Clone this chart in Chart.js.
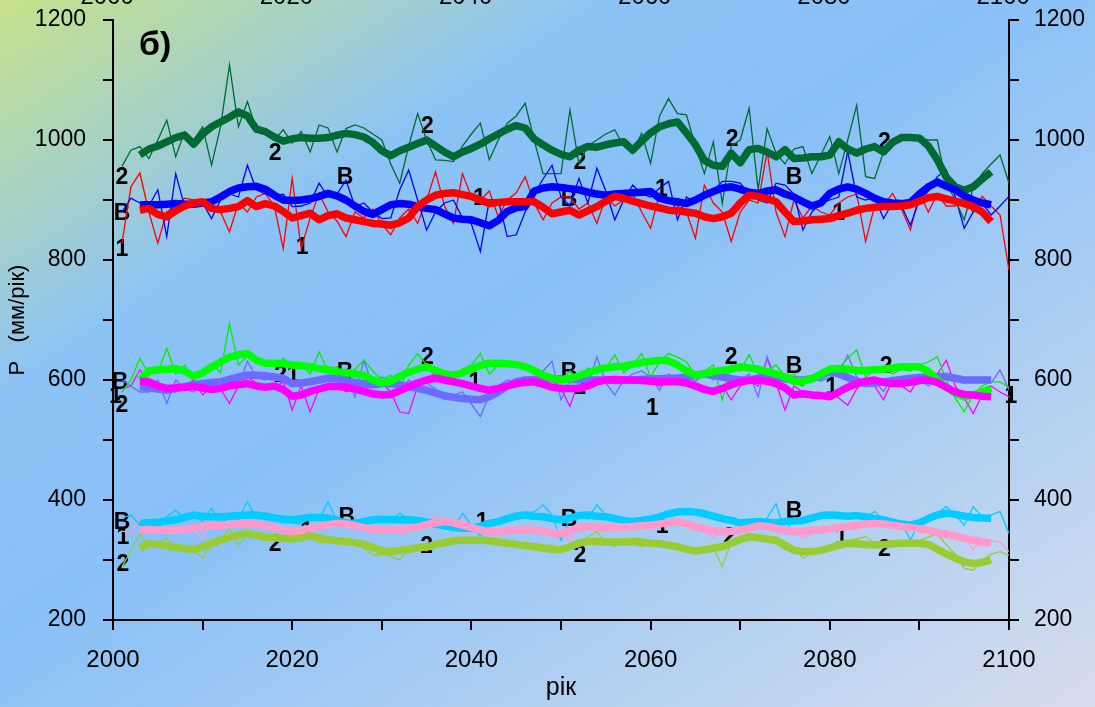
<!DOCTYPE html>
<html>
<head>
<meta charset="utf-8">
<script src="https://cdn.jsdelivr.net/npm/chart.js@4.4.1/dist/chart.umd.min.js"></script>
<style>
  html, body { margin: 0; padding: 0; }
  #wrap {
    width: 1095px; height: 707px; position: relative;
    background: linear-gradient(to bottom right, #c6e28a 0%, #8cc3f6 28%, #88c0f8 45%, #a9cdf2 70%, #d6dcec 100%);
  }
</style>
</head>
<body>
<div id="wrap"><canvas id="chart"></canvas></div>
<script>
// annual values start in 2001, moving averages in 2003
const firstYear = 2001;
const maFirstYear = 2003;

// upper group
const darkGreenAnnual = [956,983,989,969,1000,1033,972,1014,1000,1022,
  958,1022,1125,1022,1064,1017,1010,1000,1017,995,
  1014,980,1025,1020,980,1019,1025,1020,1010,1000,
  960,928,990,1044,1000,967,966,964,990,1010,
  1028,967,1000,1028,1040,1061,1000,944,944,944,
  1050,961,990,1000,1010,1017,990,980,1011,961,
  1040,1069,1044,1042,990,944,997,894,990,1000,
  1053,917,1019,978,960,985,989,944,975,1006,
  944,1000,1058,939,936,980,1000,1007,1005,1003,
  1000,1000,928,900,867,920,944,960,975,928];
const darkGreenMA = [975,985,990,997,1004,1008,993,1010,1022,1030,
  1038,1047,1040,1018,1014,1005,998,1002,1004,1003,
  1003,1004,1008,1011,1009,1005,996,982,974,982,
  988,994,1000,990,980,972,980,986,993,1002,
  1010,1018,1024,1020,1002,992,983,976,972,983,
  989,988,992,995,997,983,998,1012,1022,1027,
  1030,1012,992,966,958,956,978,962,984,986,
  980,972,984,969,970,972,972,975,997,985,
  978,985,989,980,996,1004,1004,1003,990,967,
  938,922,916,922,935,947];
const blueAnnual = [880,903,895,890,917,839,944,889,900,895,
  869,900,910,905,958,917,910,905,910,889,
  890,895,928,905,910,933,889,895,880,869,
  870,917,950,900,850,880,895,900,870,860,
  814,900,900,839,842,880,910,935,958,905,
  890,936,895,953,915,867,900,925,910,905,
  920,931,867,905,895,905,915,931,931,928,
  910,900,895,928,925,910,850,880,895,900,
  905,981,905,900,905,869,895,890,858,900,
  915,939,950,905,853,880,895,875,890,906];
const blueMA = [892,892,892,893,894,893,893,895,897,905,
  914,920,922,923,918,908,900,899,900,902,
  906,911,907,900,890,881,876,884,892,894,
  893,889,886,884,877,870,868,867,862,857,
  866,881,887,889,915,920,922,921,919,917,
  913,910,908,910,911,912,913,914,903,899,
  897,894,900,908,914,920,922,918,913,911,
  915,917,910,905,897,890,895,911,918,922,
  918,911,903,897,895,894,896,910,922,930,
  923,917,907,900,895,892];
const redAnnual = [828,922,945,880,828,880,890,903,900,895,
  885,880,847,895,880,905,911,890,819,936,
  819,870,911,880,865,839,880,870,885,860,
  842,870,885,861,900,947,890,861,944,905,
  900,915,872,900,912,939,895,867,895,905,
  905,885,895,861,905,890,900,910,880,853,
  911,895,890,880,836,925,895,880,831,880,
  900,895,981,880,839,900,870,890,880,875,
  895,905,910,831,890,890,911,885,850,911,
  880,910,890,890,900,880,906,890,875,783];
const redMA = [883,886,876,872,882,890,895,897,886,884,
  886,889,899,889,894,890,881,870,874,878,
  867,874,877,870,867,864,861,860,858,862,
  870,889,900,908,911,912,909,906,900,894,
  896,897,897,897,897,888,877,880,883,875,
  882,889,898,906,903,898,894,890,887,883,
  882,880,878,872,869,872,878,895,908,906,
  902,897,880,864,865,867,868,869,874,878,
  883,886,888,889,889,890,892,898,904,906,
  902,898,894,889,880,864];

// middle group
const greenAnnual = [580,600,636,610,612,653,610,625,600,612,
  628,612,694,625,640,635,630,622,636,622,
  628,610,647,615,622,600,618,633,615,600,
  608,583,625,644,625,610,606,600,618,625,
  644,610,625,632,628,620,610,603,608,600,
  615,590,620,610,620,642,612,625,644,605,
  630,644,638,630,608,615,625,567,625,615,
  642,610,615,625,605,610,590,605,600,612,
  620,636,650,605,615,622,610,618,615,625,
  630,639,600,570,547,575,590,597,597,588];
const greenMA = [600,615,617,618,619,615,606,612,622,630,
  638,642,644,633,628,628,627,625,624,622,
  619,617,614,612,610,608,600,595,598,606,
  613,618,622,616,610,608,612,618,624,628,
  628,627,626,622,616,608,603,600,602,607,
  612,617,620,622,623,626,629,631,633,632,
  625,615,608,610,614,616,618,622,620,618,
  614,610,605,598,598,602,610,618,619,618,
  616,616,617,618,620,622,622,622,614,600,
  588,578,572,575,580,586];
const slateAnnual = [600,590,580,580,600,561,600,585,580,595,
  590,600,605,590,631,605,600,610,600,595,
  598,600,595,605,600,610,572,633,590,605,
  598,585,600,590,595,585,567,575,580,560,
  539,575,590,600,595,605,600,615,631,567,
  600,605,590,639,595,575,600,610,615,605,
  583,610,600,605,598,610,600,612,605,600,
  610,572,639,600,610,595,590,605,598,605,
  610,642,605,595,598,581,605,600,595,600,
  590,605,600,598,595,600,605,595,617,583];
const slateMA = [589,587,585,583,586,589,592,594,596,597,
  601,605,608,608,607,605,603,594,595,597,
  600,603,602,599,596,594,592,594,594,592,
  589,586,583,578,574,571,569,568,567,572,
  580,590,597,600,601,602,602,602,601,601,
  600,600,600,599,599,600,601,602,602,603,
  603,605,608,610,608,605,602,600,600,603,
  606,605,602,600,600,602,608,614,610,604,
  598,594,595,597,599,601,603,604,605,606,
  606,603,600,600,600,600];
const magentaAnnual = [585,590,617,600,590,585,580,590,600,575,
  590,585,561,590,605,595,590,585,598,550,
  590,547,585,590,595,580,590,585,590,595,
  580,547,544,590,600,614,595,600,595,585,
  590,580,585,590,595,600,605,590,600,585,
  556,600,590,595,600,595,605,600,595,598,
  590,595,600,590,595,590,585,590,567,590,
  598,590,636,595,550,590,580,570,575,580,
  570,558,585,600,590,567,600,590,580,605,
  595,610,633,590,570,544,575,590,580,572];
const magentaMA = [598,597,590,586,587,588,589,587,584,586,
  590,592,594,590,588,590,584,573,575,581,
  585,589,589,588,585,581,577,575,576,582,
  589,595,600,603,600,597,594,590,586,583,
  586,590,594,596,597,593,588,586,586,586,
  590,597,600,601,600,600,599,598,597,597,
  597,595,590,584,581,586,592,597,599,600,
  598,594,587,575,577,575,574,572,580,588,
  594,598,600,596,594,594,596,599,600,596,
  588,580,576,575,573,572];

// lower group
const cyanAnnual = [370,375,358,365,350,372,383,368,372,365,
  386,362,370,368,397,370,375,372,368,362,
  360,370,368,397,365,360,368,357,370,372,
  365,378,368,370,362,365,358,352,378,358,
  340,362,368,372,375,378,380,392,375,333,
  370,375,368,392,375,365,368,362,360,365,
  370,378,382,383,380,378,375,372,368,360,
  365,358,370,394,344,370,368,365,372,370,
  378,372,375,370,381,365,358,362,333,365,
  370,378,389,375,358,389,372,375,381,344];
const cyanMA = [361,362,363,365,367,371,375,373,372,372,
  373,374,375,375,373,370,368,367,369,371,
  371,370,366,362,361,364,367,368,367,367,
  367,366,363,360,357,354,353,353,356,361,
  364,369,373,375,373,372,369,367,370,374,
  375,373,372,369,366,364,366,368,372,377,
  380,381,380,377,373,369,366,362,363,364,
  363,362,364,365,366,370,374,375,374,373,
  374,372,369,367,363,360,358,362,369,375,
  378,376,373,371,370,369];
const pinkAnnual = [348,345,369,352,348,350,352,350,348,336,
  362,355,360,356,365,360,358,355,350,345,
  352,350,358,362,360,357,355,352,350,348,
  355,348,352,358,360,375,360,357,370,350,
  348,345,350,352,348,355,350,352,348,345,
  331,355,360,352,355,350,358,354,355,360,
  356,381,360,362,355,350,336,352,350,346,
  352,358,356,360,355,350,336,345,350,352,
  348,355,352,357,360,367,358,355,360,367,
  352,348,345,342,340,317,335,332,330,314];
const pinkMA = [350,351,350,350,350,351,353,356,357,358,
  359,360,361,360,357,354,350,347,349,353,
  356,359,361,360,357,354,351,350,350,351,
  352,355,359,362,364,362,358,354,350,347,
  347,349,350,350,350,348,345,344,349,354,
  356,355,354,354,355,356,357,358,360,362,
  364,360,355,352,349,347,348,350,353,357,
  356,353,350,347,348,349,350,352,354,356,
  358,360,361,360,358,356,354,352,350,346,
  343,340,336,333,330,328];
const limeAnnual = [289,315,344,322,328,336,322,318,316,303,
  325,335,353,325,342,340,336,335,332,342,
  330,340,327,335,330,336,332,320,308,310,
  306,300,318,325,315,330,322,332,335,330,
  338,335,330,328,320,330,322,318,325,315,
  322,330,338,347,330,322,335,328,322,330,
  325,328,322,320,312,315,320,289,330,338,
  340,342,335,330,317,322,303,312,312,318,
  328,332,335,339,328,325,327,330,328,332,
  338,344,325,310,286,283,300,310,314,308];
const limeMA = [320,327,326,324,321,319,317,322,328,333,
  338,342,344,341,338,337,336,335,338,340,
  337,334,332,331,329,326,321,316,314,316,
  318,320,322,326,329,332,333,333,333,332,
  330,328,326,324,322,320,318,317,322,328,
  331,331,330,330,330,331,330,328,327,325,
  322,318,315,317,320,322,328,334,339,337,
  335,333,325,316,314,314,316,320,325,328,
  327,326,325,326,327,328,328,328,326,318,
  310,303,297,294,296,300];

// curve labels written along the lines
const labelText = ['2','В','1','2','1','В','2','1','В','2','1','2','В','1','2',
  'В','1','2','2','1','В','2','1','В','2','1','2','В','1','2','1',
  'В','1','2','2','1','В','2','1','В','2','1','2','В','1','2'];
const labelYear = [2001.0,2001.0,2001.0,2018.1,2021.1,2025.9,2035.1,2040.9,2050.9,2052.1,2061.2,2069.1,2076.0,2081.0,2086.1,
  2000.8,2000.3,2001.0,2018.7,2020.1,2025.9,2035.1,2040.4,2050.9,2052.1,2060.2,2069.0,2076.0,2080.2,2086.3,2100.2,
  2001.0,2001.1,2001.1,2018.1,2021.6,2026.1,2035.0,2041.2,2050.9,2052.1,2061.3,2068.8,2076.0,2081.3,2086.1];
const labelValue = [937,878,817,978,820,937,1023,903,900,962,917,1000,937,878,995,
  595,573,558,607,607,613,637,595,613,588,553,637,622,588,622,572,
  362,337,292,325,347,370,322,362,367,308,355,338,380,338,317];

const yTicksShown = [200, 400, 600, 800, 1000, 1200];
const xTicksShown = [2000, 2020, 2040, 2060, 2080, 2100];

const FONT = '"Liberation Sans", Arial, sans-serif';

function toPoints(values, start) {
  return values.map((v, i) => ({ x: start + i, y: v }));
}

function thin(values, color) {
  return { data: toPoints(values, firstYear), borderColor: color, borderWidth: 1.3,
    pointRadius: 0, tension: 0, order: 20 };
}
function thick(values, color) {
  return { data: toPoints(values, maFirstYear), borderColor: color, borderWidth: 7.5,
    pointRadius: 0, tension: 0, borderJoinStyle: 'round', borderCapStyle: 'butt', order: 10 };
}

const datasets = [
  thick(redMA, '#ff0000'), thick(blueMA, '#0000ff'), thick(darkGreenMA, '#006a33'),
  thick(magentaMA, '#ff00ff'), thick(greenMA, '#00ff00'), thick(slateMA, '#6b6bff'),
  thick(pinkMA, '#ff99cc'), thick(cyanMA, '#00ccff'), thick(limeMA, '#99cc33'),
  thin(darkGreenAnnual, '#006a33'), thin(blueAnnual, '#0000ff'), thin(redAnnual, '#ff0000'),
  thin(greenAnnual, '#00ee00'), thin(slateAnnual, '#6b6bff'), thin(magentaAnnual, '#ff00ff'),
  thin(cyanAnnual, '#00ccff'), thin(pinkAnnual, '#ff99cc'), thin(limeAnnual, '#99cc33')
];

// draws the "1", "2", "В" marks under the lines, and the panel letter
const curveLabels = {
  id: 'curveLabels',
  beforeDatasetsDraw(chart) {
    const { ctx, scales } = chart;
    ctx.save();
    ctx.fillStyle = '#000';
    ctx.font = 'bold 23px ' + FONT;
    ctx.textAlign = 'center';
    ctx.textBaseline = 'middle';
    labelText.forEach((t, i) => {
      ctx.fillText(t, scales.x.getPixelForValue(labelYear[i]), scales.y.getPixelForValue(labelValue[i]));
    });
    ctx.font = 'bold 34px ' + FONT;
    ctx.fillText('б)', scales.x.getPixelForValue(2004.7), scales.y.getPixelForValue(1158));
    ctx.restore();
  }
};

const axisTicks = { color: '#000', lineWidth: 2, drawOnChartArea: false, drawTicks: true, tickLength: 10 };

// fixed axis boxes so the plot area sits where it does in the original
function fixVertical(width) {
  return s => { s.width = width; s.paddingTop = 0; s.paddingBottom = 0; };
}
function fixHorizontal(height) {
  return s => { s.height = height; s.paddingLeft = 0; s.paddingRight = 0; };
}
function stepTicks(from, to, step) {
  return s => { s.ticks = []; for (let v = from; v <= to; v += step) s.ticks.push({ value: v }); };
}

new Chart(document.getElementById('chart'), {
  type: 'line',
  data: { datasets },
  plugins: [curveLabels],
  options: {
    responsive: true,
    maintainAspectRatio: false,
    animation: false,
    layout: { padding: 0 },
    plugins: { legend: { display: false }, tooltip: { enabled: false } },
    scales: {
      x: {
        type: 'linear', position: 'bottom', min: 2000, max: 2100,
        afterFit: fixHorizontal(87),
        afterBuildTicks: stepTicks(2000, 2100, 10),
        border: { display: true, color: '#000', width: 2 },
        grid: axisTicks,
        ticks: { color: '#000', padding: 16, font: { family: FONT, size: 24 }, maxRotation: 0,
          callback: v => xTicksShown.includes(v) ? String(v) : '' },
        title: { display: true, text: 'рік', color: '#000', font: { family: FONT, size: 25 }, padding: { top: 0, bottom: 4 } }
      },
      xTop: {
        type: 'linear', position: 'top', min: 2000.65, max: 2100.65,
        afterFit: fixHorizontal(20),
        afterBuildTicks: s => { s.ticks = xTicksShown.map(v => ({ value: v })); },
        border: { display: false },
        grid: { display: false, drawTicks: false, tickLength: 0 },
        ticks: { color: '#000', padding: 8, font: { family: FONT, size: 24 }, maxRotation: 0,
          callback: v => String(v) }
      },
      y: {
        type: 'linear', position: 'left', min: 200, max: 1200,
        afterFit: fixVertical(113),
        afterBuildTicks: stepTicks(200, 1200, 100),
        border: { display: true, color: '#000', width: 2 },
        grid: axisTicks,
        ticks: { color: '#000', padding: 17, font: { family: FONT, size: 23 },
          callback: v => yTicksShown.includes(v) ? String(v) : '' },
        title: { display: true, text: 'P   (мм/рік)', color: '#000', font: { family: FONT, size: 22 }, padding: { top: 5, bottom: 0 } }
      },
      yRight: {
        type: 'linear', position: 'right', min: 200, max: 1200,
        afterFit: fixVertical(86),
        afterBuildTicks: stepTicks(200, 1200, 100),
        border: { display: true, color: '#000', width: 2 },
        grid: axisTicks,
        ticks: { color: '#000', padding: 15, font: { family: FONT, size: 23 },
          callback: v => yTicksShown.includes(v) ? String(v) : '' }
      }
    }
  }
});
</script>
</body>
</html>
